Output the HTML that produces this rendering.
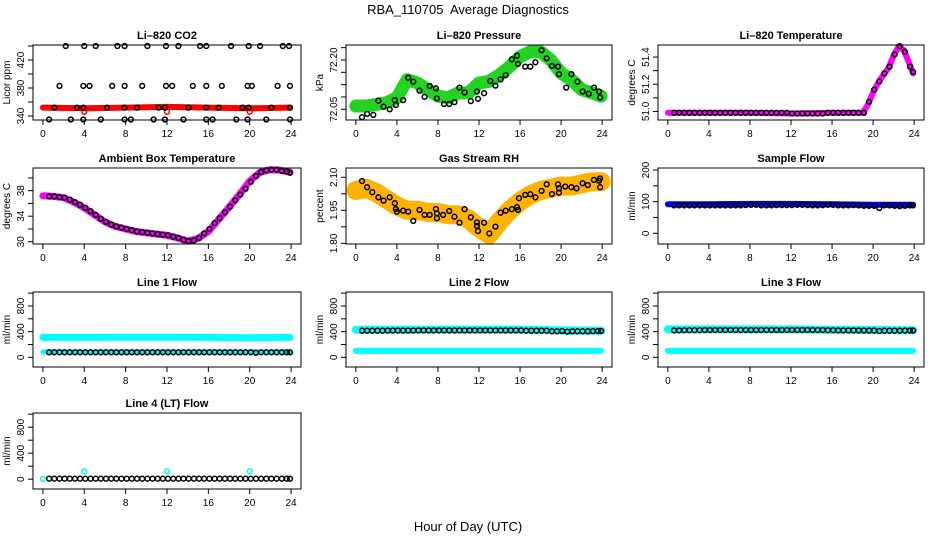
<!DOCTYPE html>
<html><head><meta charset="utf-8"><style>
html,body{margin:0;padding:0;background:#fff;width:936px;height:540px;overflow:hidden}
svg text{font-family:"Liberation Sans",sans-serif}
</style></head><body>
<svg id="chart" width="936" height="540" xmlns="http://www.w3.org/2000/svg">
<text x="468" y="14" text-anchor="middle" font-size="13">RBA_110705&#160; Average Diagnostics</text>
<text x="468" y="531" text-anchor="middle" font-size="13">Hour of Day (UTC)</text>
</svg>
<script>
// ---- shared data ----
const xTicks = [0,4,8,12,16,20,24];
const circT = [0.6,1.1,1.6,2.1,2.6,3.1,3.6,4.1,4.6,5.1,5.6,6.1,6.6,7.1,7.6,8.1,8.6,9.1,9.6,10.1,10.6,11.1,11.6,12.1,12.6,13.1,13.6,14.1,14.6,15.1,15.6,16.1,16.6,17.1,17.6,18.1,18.6,19.1,19.6,20.1,20.6,21.1,21.6,22.1,22.6,23.1,23.6,23.9];
const hourT = [0,1,2,3,4,5,6,7,8,9,10,11,12,13,14,15,16,17,18,19,20,21,22,23,23.9];
const flatT = [0,4,8,12,16,20,23.9];

// CO2
const co2BandV = [352,351,352,353,352,351,352];
const co2CircT = [2.2,4,5.1,7.2,7.9,10.1,11.9,13.1,15.2,15.8,18.2,19.9,21.0,23.2,23.8, 1.6,3.9,4.5,6.7,7.9,9.6,11.9,12.5,14.5,15.8,17.3,19.8,20.2,22.7,23.9, 1.1,3.3,3.9,6.2,7.9,9.1,11.2,11.8,14.1,15.8,17.0,19.3,19.9,22.1,23.9, 0.6,2.7,3.9,5.6,7.9,8.5,10.7,11.8,13.6,15.8,16.4,18.7,19.8,21.6,23.9];
const co2CircV = [440,440,440,440,440,440,440,440,440,440,440,440,440,440,440, 383,383,383,383,383,383,383,383,383,383,383,383,383,383,383, 352,352,352,352,352,352,352,352,352,352,352,352,352,352,352, 335,335,335,335,335,335,335,335,335,335,335,335,335,335,335];
const co2RedT = [4,12,20];
const co2RedV = [346,346,346];

// Pressure
const presBandV = [72.06,72.06,72.065,72.07,72.085,72.14,72.13,72.11,72.09,72.085,72.1,72.1,72.13,72.135,72.155,72.18,72.21,72.225,72.225,72.2,72.16,72.14,72.11,72.1,72.09];
const presCircT = [0.6,1.1,1.7,2.2,2.7,3.3,3.8,3.9,4.6,5.1,5.6,6.2,6.7,7.2,7.8,7.9,8.6,9.1,9.6,10.1,10.6,11.2,11.8,11.9,12.5,13.1,13.6,14.1,14.6,15.2,15.7,15.8,16.5,17.0,17.5,18.1,18.6,19.1,19.7,19.8,20.5,21.0,21.6,22.1,22.7,23.2,23.7,23.8];
const presCircV = [72.026,72.036,72.033,72.076,72.058,72.05,72.078,72.063,72.078,72.146,72.134,72.107,72.088,72.121,72.114,72.083,72.066,72.066,72.072,72.116,72.101,72.075,72.104,72.082,72.099,72.136,72.122,72.141,72.154,72.202,72.213,72.188,72.18,72.18,72.193,72.23,72.205,72.182,72.18,72.157,72.116,72.157,72.134,72.104,72.097,72.116,72.104,72.086];

// Li-820 temperature
const tempBandT = [0,4,8,12,16,19,19.5,20,20.5,21,21.5,22,22.5,23,23.5,23.9];
const tempBandV = [50.99,50.99,50.99,50.985,50.99,50.99,51.05,51.14,51.21,51.27,51.32,51.41,51.48,51.45,51.36,51.28];
const tempCircV = [50.99,50.99,50.99,50.99,50.99,50.99,50.99,50.99,50.99,50.99,50.99,50.99,50.99,50.99,50.99,50.99,50.99,50.99,50.99,50.99,50.99,50.99,50.99,50.985,50.985,50.985,50.985,50.985,50.985,50.985,50.99,50.99,50.99,50.99,50.99,50.99,50.99,50.99,51.07,51.16,51.22,51.28,51.33,51.42,51.48,51.44,51.33,51.29];

// Ambient
const ambBandV = [37.2,37.1,36.9,36.2,35.3,34.2,33.1,32.4,32.0,31.6,31.4,31.2,31.0,30.6,30.1,30.5,31.6,33.5,35.4,37.4,39.5,40.9,41.3,41.2,40.9];
const ambCircV = [37.1,37.1,37.0,36.9,36.6,36.2,35.8,35.3,34.8,34.2,33.6,33.1,32.7,32.4,32.2,32.0,31.8,31.6,31.5,31.4,31.3,31.2,31.1,31.0,30.8,30.6,30.3,30.1,30.2,30.6,31.3,32.0,32.9,33.7,34.6,35.5,36.5,37.4,38.3,39.4,40.3,40.9,41.2,41.3,41.3,41.1,41.0,40.8];

// Gas RH
const rhBandV = [2.04,2.05,2.03,2.0,1.97,1.95,1.95,1.94,1.94,1.93,1.93,1.91,1.87,1.84,1.9,1.95,1.99,2.02,2.04,2.05,2.06,2.06,2.07,2.08,2.08];
const rhCircT = [0.6,1.1,1.6,2.2,2.7,3.3,3.8,3.9,4.0,4.6,5.1,5.6,6.2,6.7,7.2,7.8,7.9,7.9,8.5,9.1,9.6,10.1,10.6,11.2,11.8,11.8,11.9,12.5,13.0,13.6,14.1,14.6,15.2,15.7,15.8,15.9,16.5,17.0,17.5,18.1,18.6,19.1,19.7,19.8,19.8,20.4,21.0,21.5,22.1,22.6,23.2,23.7,23.8,23.8];
const rhCircV = [2.083,2.055,2.032,2.009,1.994,2.009,1.982,1.956,1.944,1.948,1.944,1.902,1.952,1.929,1.929,1.956,1.936,1.914,1.929,1.947,1.921,1.894,1.955,1.918,1.895,1.879,1.856,1.894,1.845,1.876,1.939,1.948,1.955,1.964,1.952,2.005,2.02,2.023,2.009,2.038,2.068,2.024,2.068,2.05,2.03,2.058,2.055,2.05,2.073,2.065,2.088,2.085,2.095,2.055];

// Flows
const sampleBandV = [92,92,93,93,92,90,90];
const sampleCircV = [88,88,88,88,88,88,88,88,88,88,88,88,88,88,89,90,90,88,88,88,89,89,89,89,90,90,89,88,88,89,90,90,88,88,88,89,88,87,87,87,80,88,88,87,86,87,88,88];
const line1HiV = [310,310,312,312,310,305,310];
const line1LoV = [85,85,85,85,85,85,85];
const line1CircV = [78,78,78,78,78,78,78,78,78,78,78,78,78,78,78,78,78,78,78,78,78,78,78,78,78,78,78,78,78,78,78,78,78,78,78,78,78,78,78,78,70,78,78,78,78,78,78,78];
const line2HiV = [430,430,432,432,430,420,415];
const line2LoV = [100,100,100,100,100,100,100];
const line2CircV = [415,415,415,415,415,418,418,418,418,418,418,420,420,420,420,420,420,420,420,420,420,420,420,420,420,420,420,420,420,420,420,420,415,415,415,415,415,405,405,410,400,405,405,405,405,408,410,410];
const line3HiV = [435,435,435,435,430,425,420];
const line3LoV = [100,100,100,100,100,100,100];
const line3CircV = [420,420,422,422,422,422,425,425,425,425,425,425,425,425,425,425,425,425,425,425,425,425,425,425,425,425,425,425,425,425,422,422,420,420,420,420,420,418,418,418,410,415,415,415,415,418,418,418];
const line4CircV = [8,8,8,8,8,8,8,8,8,8,8,8,8,8,8,8,8,8,8,8,8,8,8,8,8,8,8,8,8,8,8,8,8,8,8,8,8,8,8,8,8,8,8,8,8,8,8,8];
const line4CyanT = [0,4,12,20];
const line4CyanV = [5,120,120,120];

const flowTicks = [0,200,400,600,800,1000];
const flowLabels = ["0","400","800"];

// ---- drawing ----
const NS = "http://www.w3.org/2000/svg";
const svg = document.getElementById('chart');
function mk(tag, attrs, parent){const e=document.createElementNS(NS,tag);for(const k in attrs)e.setAttribute(k,attrs[k]);(parent||svg).appendChild(e);return e;}

function panel(cfg){
  const g = mk('g',{});
  
  
  const L=cfg.box[0],T=cfg.box[1],R=cfg.box[2],B=cfg.box[3],W=R-L,H=B-T;
  const xs = t => L + (t+0.96)/25.92*W;
  const ys = v => B - (v-cfg.yLo)/(cfg.yHi-cfg.yLo)*H;
  const t = mk('text',{x:(L+R)/2,y:T-6,'text-anchor':'middle','font-size':11,'font-weight':'bold'},g);
  t.textContent = cfg.title;
  
  
  cfg.series.forEach(s=>{
    if(s.type==='band'){
      const d = s.t.map((tt,i)=>(i?'L':'M')+xs(tt).toFixed(1)+' '+ys(s.v[i]).toFixed(1)).join(' ');
      const p = mk('path',{d:d,fill:'none',stroke:s.color,'stroke-width':s.w,'stroke-linecap':'round','stroke-linejoin':'round'},g);
      
      
    } else {
      const sg = mk('g',{},g);
      
      
      s.t.forEach((tt,i)=>{
        const c = mk('circle',{cx:xs(tt).toFixed(1),cy:ys(s.v[i]).toFixed(1),r:2.4,fill:'none',stroke:s.color,'stroke-width':1.5},sg);
        
        
      });
    }
  });
  const box = mk('rect',{x:L,y:T,width:W,height:H,fill:'none',stroke:'#000','stroke-width':1},g);
  
  
  xTicks.forEach(v=>{
    const x=xs(v);
    mk('line',{x1:x,y1:B,x2:x,y2:B+5,stroke:'#000'},g);
    const tx=mk('text',{x:x,y:B+17,'text-anchor':'middle','font-size':10},g);
    tx.textContent=v;
    
    
  });
  mk('line',{x1:xs(0),y1:B,x2:xs(24),y2:B,stroke:'#000'},g);
  cfg.yTicks.forEach(v=>{ const y=ys(v); mk('line',{x1:L,y1:y,x2:L-5,y2:y,stroke:'#000'},g); });
  mk('line',{x1:L,y1:ys(cfg.yTicks[0]),x2:L,y2:ys(cfg.yTicks[cfg.yTicks.length-1]),stroke:'#000'},g);
  cfg.yLabels.forEach(lb=>{
    const y=ys(parseFloat(lb)), x=L-9;
    const ty=mk('text',{x:x,y:y,'text-anchor':'middle','font-size':10,transform:`rotate(-90 ${x} ${y})`},g);
    ty.textContent=lb;
    
    
  });
  const yx=L-23, yy=(T+B)/2;
  const yl=mk('text',{x:yx,y:yy,'text-anchor':'middle','font-size':10,transform:`rotate(-90 ${yx} ${yy})`},g);
  yl.textContent=cfg.ylab;
  
  
}

const C1=[33,301],C2=[346,612],C3=[658,924];
const R1=[45,120],R2=[168,244],R3=[292,367],R4=[413,489];
const bx=(c,r)=>[c[0],r[0],c[1],r[1]];

panel({name:'co2-panel',title:'Li–820 CO2',ylab:'Licor ppm',box:bx(C1,R1),yLo:334.3,yHi:441.4,
  yTicks:[340,360,380,400,420,440],yLabels:["340","380","420"],
  series:[{type:'band',name:'co2-band',t:flatT,v:co2BandV,color:'#ff0000',w:6},
          {type:'pts',name:'co2-red-points',t:co2RedT,v:co2RedV,color:'#ff0000'},
          {type:'pts',name:'co2-points',t:co2CircT,v:co2CircV,color:'#000'}]});
panel({name:'pressure-panel',title:'Li–820 Pressure',ylab:'kPa',box:bx(C2,R1),yLo:72.0174,yHi:72.2456,
  yTicks:[72.05,72.0875,72.125,72.1625,72.2,72.2375],yLabels:["72.05","72.20"],
  series:[{type:'band',name:'pressure-band',t:hourT,v:presBandV,color:'#22d322',w:13},
          {type:'pts',name:'pressure-points',t:presCircT,v:presCircV,color:'#000'}]});
panel({name:'li820-temp-panel',title:'Li–820 Temperature',ylab:'degrees C',box:bx(C3,R1),yLo:50.937,yHi:51.489,
  yTicks:[51.0,51.1,51.2,51.3,51.4],yLabels:["51.0","51.2","51.4"],
  series:[{type:'band',name:'li820-temp-band',t:tempBandT,v:tempBandV,color:'#ff00ff',w:6},
          {type:'pts',name:'li820-temp-points',t:circT,v:tempCircV,color:'#000'}]});
panel({name:'ambient-temp-panel',title:'Ambient Box Temperature',ylab:'degrees C',box:bx(C1,R2),yLo:29.64,yHi:41.56,
  yTicks:[30,32,34,36,38,40],yLabels:["30","34","38"],
  series:[{type:'band',name:'ambient-band',t:hourT,v:ambBandV,color:'#ff00ff',w:7},
          {type:'pts',name:'ambient-points',t:circT,v:ambCircV,color:'#000'}]});
panel({name:'gas-rh-panel',title:'Gas Stream RH',ylab:'percent',box:bx(C2,R2),yLo:1.797,yHi:2.142,
  yTicks:[1.8,1.875,1.95,2.025,2.1],yLabels:["1.80","1.95","2.10"],
  series:[{type:'band',name:'rh-band',t:hourT,v:rhBandV,color:'#ffb300',w:19},
          {type:'pts',name:'rh-points',t:rhCircT,v:rhCircV,color:'#000'}]});
panel({name:'sample-flow-panel',title:'Sample Flow',ylab:'ml/min',box:bx(C3,R2),yLo:-33.8,yHi:206.3,
  yTicks:[0,50,100,150,200],yLabels:["0","100","200"],
  series:[{type:'band',name:'sample-band',t:flatT,v:sampleBandV,color:'#0000ff',w:6},
          {type:'pts',name:'sample-points',t:circT,v:sampleCircV,color:'#000'}]});
panel({name:'line1-flow-panel',title:'Line 1 Flow',ylab:'ml/min',box:bx(C1,R3),yLo:-151,yHi:1018,
  yTicks:flowTicks,yLabels:flowLabels,
  series:[{type:'band',name:'line1-high-band',t:flatT,v:line1HiV,color:'#00ffff',w:7},
          {type:'band',name:'line1-low-band',t:flatT,v:line1LoV,color:'#00ffff',w:5},
          {type:'pts',name:'line1-points',t:circT,v:line1CircV,color:'#000'}]});
panel({name:'line2-flow-panel',title:'Line 2 Flow',ylab:'ml/min',box:bx(C2,R3),yLo:-151,yHi:1018,
  yTicks:flowTicks,yLabels:flowLabels,
  series:[{type:'band',name:'line2-high-band',t:flatT,v:line2HiV,color:'#00ffff',w:8},
          {type:'band',name:'line2-low-band',t:flatT,v:line2LoV,color:'#00ffff',w:6},
          {type:'pts',name:'line2-points',t:circT,v:line2CircV,color:'#000'}]});
panel({name:'line3-flow-panel',title:'Line 3 Flow',ylab:'ml/min',box:bx(C3,R3),yLo:-151,yHi:1018,
  yTicks:flowTicks,yLabels:flowLabels,
  series:[{type:'band',name:'line3-high-band',t:flatT,v:line3HiV,color:'#00ffff',w:8},
          {type:'band',name:'line3-low-band',t:flatT,v:line3LoV,color:'#00ffff',w:6},
          {type:'pts',name:'line3-points',t:circT,v:line3CircV,color:'#000'}]});
panel({name:'line4-flow-panel',title:'Line 4 (LT) Flow',ylab:'ml/min',box:bx(C1,R4),yLo:-151,yHi:1018,
  yTicks:flowTicks,yLabels:flowLabels,
  series:[{type:'pts',name:'line4-cyan-points',t:line4CyanT,v:line4CyanV,color:'#00ffff'},
          {type:'pts',name:'line4-points',t:circT,v:line4CircV,color:'#000'}]});
</script>
</body></html>
